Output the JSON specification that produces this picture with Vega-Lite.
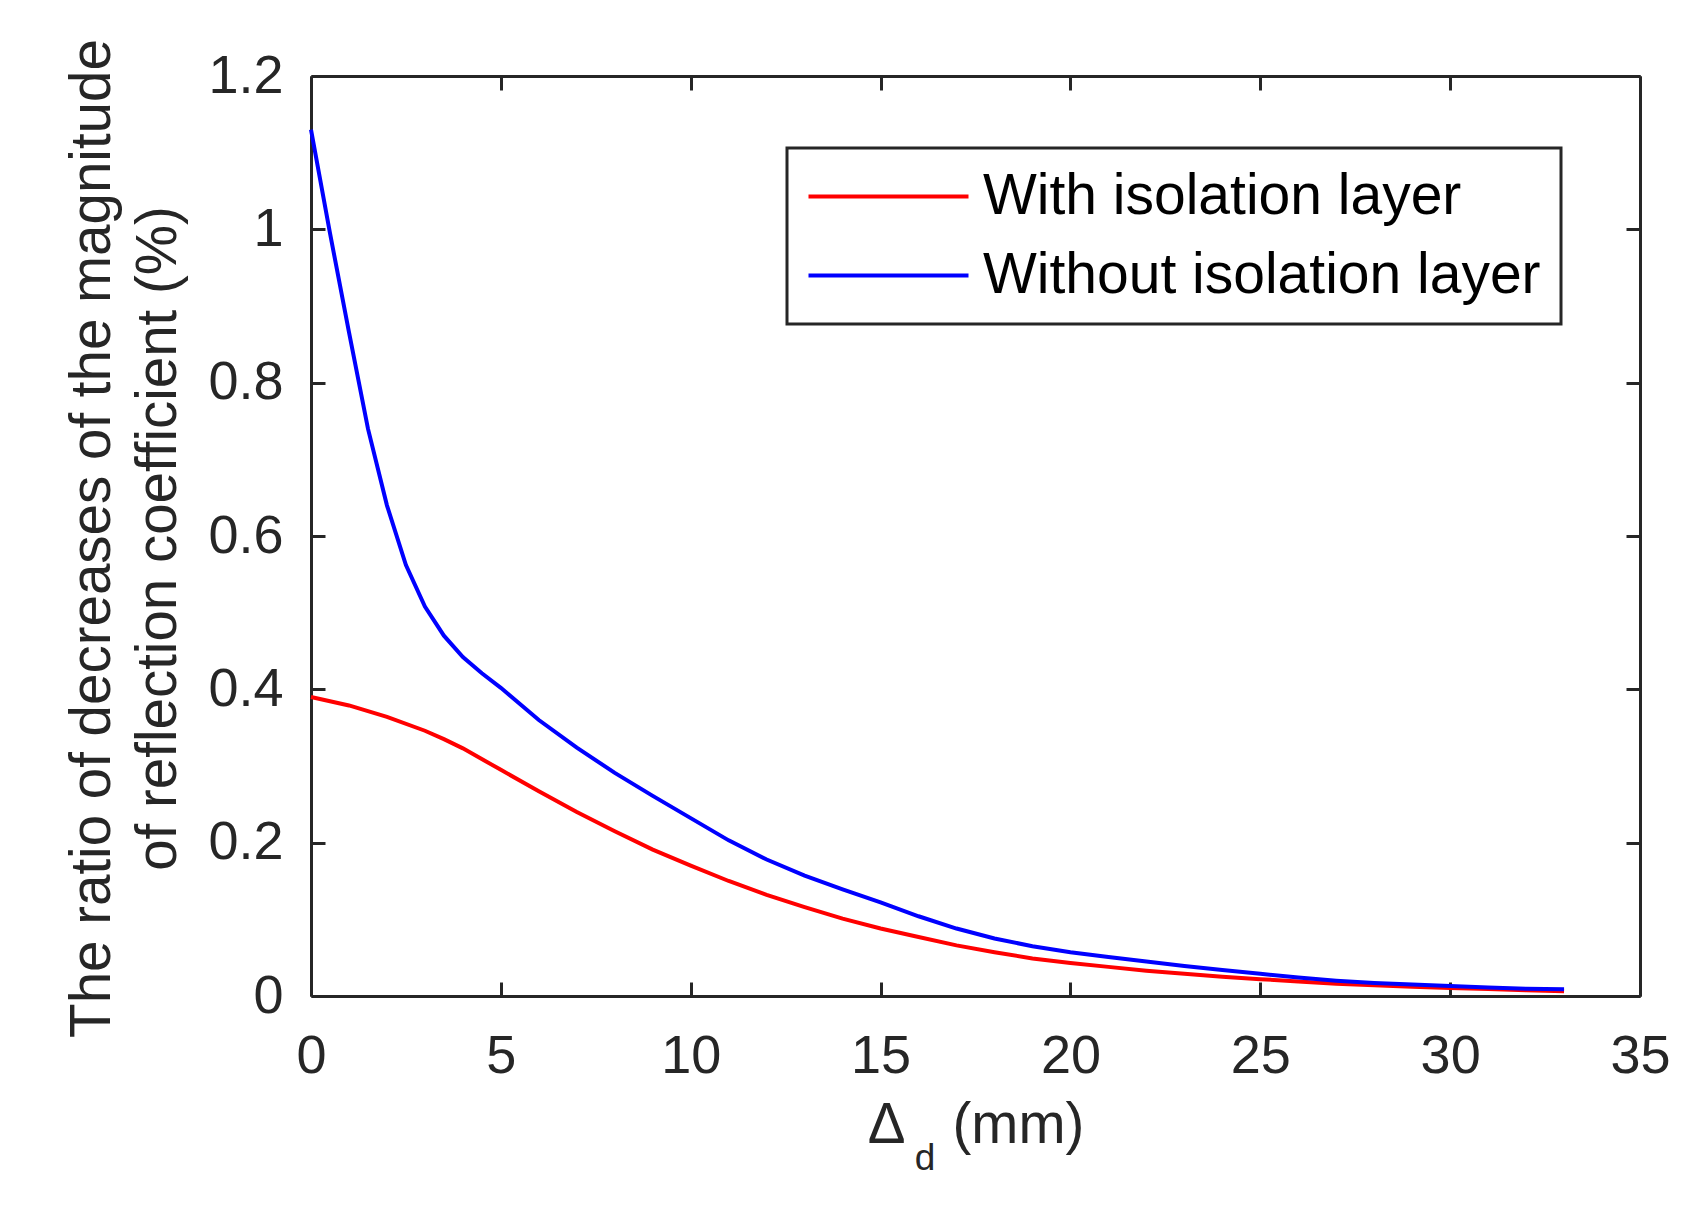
{
  "$schema": "https://vega.github.io/schema/vega-lite/v6.json",
  "width": 1329,
  "height": 920,
  "autosize": {"type": "none"},
  "padding": {"left": 311, "top": 76, "right": 56, "bottom": 209},
  "background": "white",
  "config": {
    "view": {"stroke": null},
    "font": "Liberation Sans",
    "axis": {
      "grid": false,
      "domainColor": "#262626",
      "domainWidth": 3,
      "tickColor": "#262626",
      "tickWidth": 3,
      "tickSize": -14,
      "labelColor": "#262626",
      "labelFontSize": 54,
      "labelFlush": false,
      "labelOverlap": false,
      "titleColor": "#262626",
      "titleFontSize": 56.5,
      "titleFontWeight": "normal"
    },
    "legend": {"strokeWidth": 3}
  },
  "data": {
    "values": [
      {"d": 0, "ratio": 0.39, "series": "With isolation layer"},
      {"d": 1, "ratio": 0.379, "series": "With isolation layer"},
      {"d": 2, "ratio": 0.364, "series": "With isolation layer"},
      {"d": 3, "ratio": 0.346, "series": "With isolation layer"},
      {"d": 3.5, "ratio": 0.335, "series": "With isolation layer"},
      {"d": 4, "ratio": 0.323, "series": "With isolation layer"},
      {"d": 5, "ratio": 0.295, "series": "With isolation layer"},
      {"d": 6, "ratio": 0.267, "series": "With isolation layer"},
      {"d": 7, "ratio": 0.24, "series": "With isolation layer"},
      {"d": 8, "ratio": 0.215, "series": "With isolation layer"},
      {"d": 9, "ratio": 0.191, "series": "With isolation layer"},
      {"d": 10, "ratio": 0.17, "series": "With isolation layer"},
      {"d": 11, "ratio": 0.15, "series": "With isolation layer"},
      {"d": 12, "ratio": 0.132, "series": "With isolation layer"},
      {"d": 13, "ratio": 0.116, "series": "With isolation layer"},
      {"d": 14, "ratio": 0.101, "series": "With isolation layer"},
      {"d": 15, "ratio": 0.088, "series": "With isolation layer"},
      {"d": 16, "ratio": 0.077, "series": "With isolation layer"},
      {"d": 17, "ratio": 0.066, "series": "With isolation layer"},
      {"d": 18, "ratio": 0.057, "series": "With isolation layer"},
      {"d": 19, "ratio": 0.049, "series": "With isolation layer"},
      {"d": 20, "ratio": 0.043, "series": "With isolation layer"},
      {"d": 21, "ratio": 0.038, "series": "With isolation layer"},
      {"d": 22, "ratio": 0.033, "series": "With isolation layer"},
      {"d": 23, "ratio": 0.029, "series": "With isolation layer"},
      {"d": 24, "ratio": 0.025, "series": "With isolation layer"},
      {"d": 25, "ratio": 0.022, "series": "With isolation layer"},
      {"d": 26, "ratio": 0.019, "series": "With isolation layer"},
      {"d": 27, "ratio": 0.016, "series": "With isolation layer"},
      {"d": 28, "ratio": 0.014, "series": "With isolation layer"},
      {"d": 29, "ratio": 0.012, "series": "With isolation layer"},
      {"d": 30, "ratio": 0.0105, "series": "With isolation layer"},
      {"d": 31, "ratio": 0.009, "series": "With isolation layer"},
      {"d": 32, "ratio": 0.0075, "series": "With isolation layer"},
      {"d": 33, "ratio": 0.0062, "series": "With isolation layer"},
      {"d": 0, "ratio": 1.13, "series": "Without isolation layer"},
      {"d": 0.5, "ratio": 0.995, "series": "Without isolation layer"},
      {"d": 1, "ratio": 0.866, "series": "Without isolation layer"},
      {"d": 1.5, "ratio": 0.74, "series": "Without isolation layer"},
      {"d": 2, "ratio": 0.64, "series": "Without isolation layer"},
      {"d": 2.5, "ratio": 0.562, "series": "Without isolation layer"},
      {"d": 3, "ratio": 0.508, "series": "Without isolation layer"},
      {"d": 3.5, "ratio": 0.47, "series": "Without isolation layer"},
      {"d": 4, "ratio": 0.442, "series": "Without isolation layer"},
      {"d": 4.5, "ratio": 0.421, "series": "Without isolation layer"},
      {"d": 5, "ratio": 0.402, "series": "Without isolation layer"},
      {"d": 6, "ratio": 0.36, "series": "Without isolation layer"},
      {"d": 7, "ratio": 0.324, "series": "Without isolation layer"},
      {"d": 8, "ratio": 0.291, "series": "Without isolation layer"},
      {"d": 9, "ratio": 0.261, "series": "Without isolation layer"},
      {"d": 10, "ratio": 0.232, "series": "Without isolation layer"},
      {"d": 11, "ratio": 0.203, "series": "Without isolation layer"},
      {"d": 12, "ratio": 0.178, "series": "Without isolation layer"},
      {"d": 13, "ratio": 0.157, "series": "Without isolation layer"},
      {"d": 14, "ratio": 0.139, "series": "Without isolation layer"},
      {"d": 15, "ratio": 0.122, "series": "Without isolation layer"},
      {"d": 16, "ratio": 0.104, "series": "Without isolation layer"},
      {"d": 17, "ratio": 0.088, "series": "Without isolation layer"},
      {"d": 18, "ratio": 0.075, "series": "Without isolation layer"},
      {"d": 19, "ratio": 0.065, "series": "Without isolation layer"},
      {"d": 20, "ratio": 0.057, "series": "Without isolation layer"},
      {"d": 21, "ratio": 0.051, "series": "Without isolation layer"},
      {"d": 22, "ratio": 0.045, "series": "Without isolation layer"},
      {"d": 23, "ratio": 0.039, "series": "Without isolation layer"},
      {"d": 24, "ratio": 0.034, "series": "Without isolation layer"},
      {"d": 25, "ratio": 0.029, "series": "Without isolation layer"},
      {"d": 26, "ratio": 0.024, "series": "Without isolation layer"},
      {"d": 27, "ratio": 0.02, "series": "Without isolation layer"},
      {"d": 28, "ratio": 0.017, "series": "Without isolation layer"},
      {"d": 29, "ratio": 0.015, "series": "Without isolation layer"},
      {"d": 30, "ratio": 0.013, "series": "Without isolation layer"},
      {"d": 31, "ratio": 0.011, "series": "Without isolation layer"},
      {"d": 32, "ratio": 0.0095, "series": "Without isolation layer"},
      {"d": 33, "ratio": 0.0087, "series": "Without isolation layer"}
    ]
  },
  "layer": [
    {
      "mark": {"type": "line", "strokeWidth": 4},
      "encoding": {
        "x": {
          "field": "d",
          "type": "quantitative",
          "scale": {"domain": [0, 35], "nice": false, "zero": false},
          "axis": {
            "orient": "bottom",
            "values": [0, 5, 10, 15, 20, 25, 30, 35],
            "format": "~g",
            "labelPadding": 47,
            "title": "Δ\u00a0\u00a0\u00a0(mm)",
            "titleY": 146,
            "titleBaseline": "alphabetic"
          }
        },
        "y": {
          "field": "ratio",
          "type": "quantitative",
          "scale": {"domain": [0, 1.2], "nice": false},
          "axis": {
            "orient": "left",
            "values": [0, 0.2, 0.4, 0.6, 0.8, 1, 1.2],
            "format": "~g",
            "labelPadding": 42,
            "title": ["The ratio of decreases of the magnitude", "of reflection coefficient (%)"],
            "titleAngle": 270,
            "titleX": -202,
            "titleY": 462,
            "titleAlign": "center",
            "titleBaseline": "alphabetic",
            "titleLineHeight": 66
          }
        },
        "color": {
          "field": "series",
          "type": "nominal",
          "scale": {
            "domain": ["With isolation layer", "Without isolation layer"],
            "range": ["#ff0000", "#0000ff"]
          },
          "legend": {
            "title": null,
            "orient": "none",
            "legendX": 476,
            "legendY": 72,
            "symbolType": "M-4,0L4,0",
            "symbolSize": 1600,
            "symbolStrokeWidth": 4,
            "symbolOffset": 53,
            "labelOffset": 66,
            "labelFontSize": 57,
            "labelColor": "black",
            "labelLimit": 800,
            "padding": 20,
            "rowPadding": 21,
            "strokeColor": "#262626",
            "fillColor": "white"
          }
        }
      }
    },
    {
      "mark": {"type": "line", "strokeOpacity": 0},
      "encoding": {
        "x": {
          "field": "d",
          "type": "quantitative",
          "axis": {"orient": "top", "values": [0, 5, 10, 15, 20, 25, 30, 35], "labels": false, "title": null}
        },
        "y": {
          "field": "ratio",
          "type": "quantitative",
          "axis": {"orient": "right", "values": [0, 0.2, 0.4, 0.6, 0.8, 1, 1.2], "labels": false, "title": null}
        },
        "detail": {"field": "series"}
      }
    },
    {
      "data": {"values": [{"sub": "d"}]},
      "mark": {"type": "text", "fontSize": 37, "color": "#262626", "align": "center", "baseline": "alphabetic", "dy": 174},
      "encoding": {
        "text": {"field": "sub"},
        "x": {"datum": 16.17, "type": "quantitative", "axis": null},
        "y": {"datum": 0, "type": "quantitative", "axis": null}
      }
    }
  ],
  "resolve": {"axis": {"x": "independent", "y": "independent"}}
}
